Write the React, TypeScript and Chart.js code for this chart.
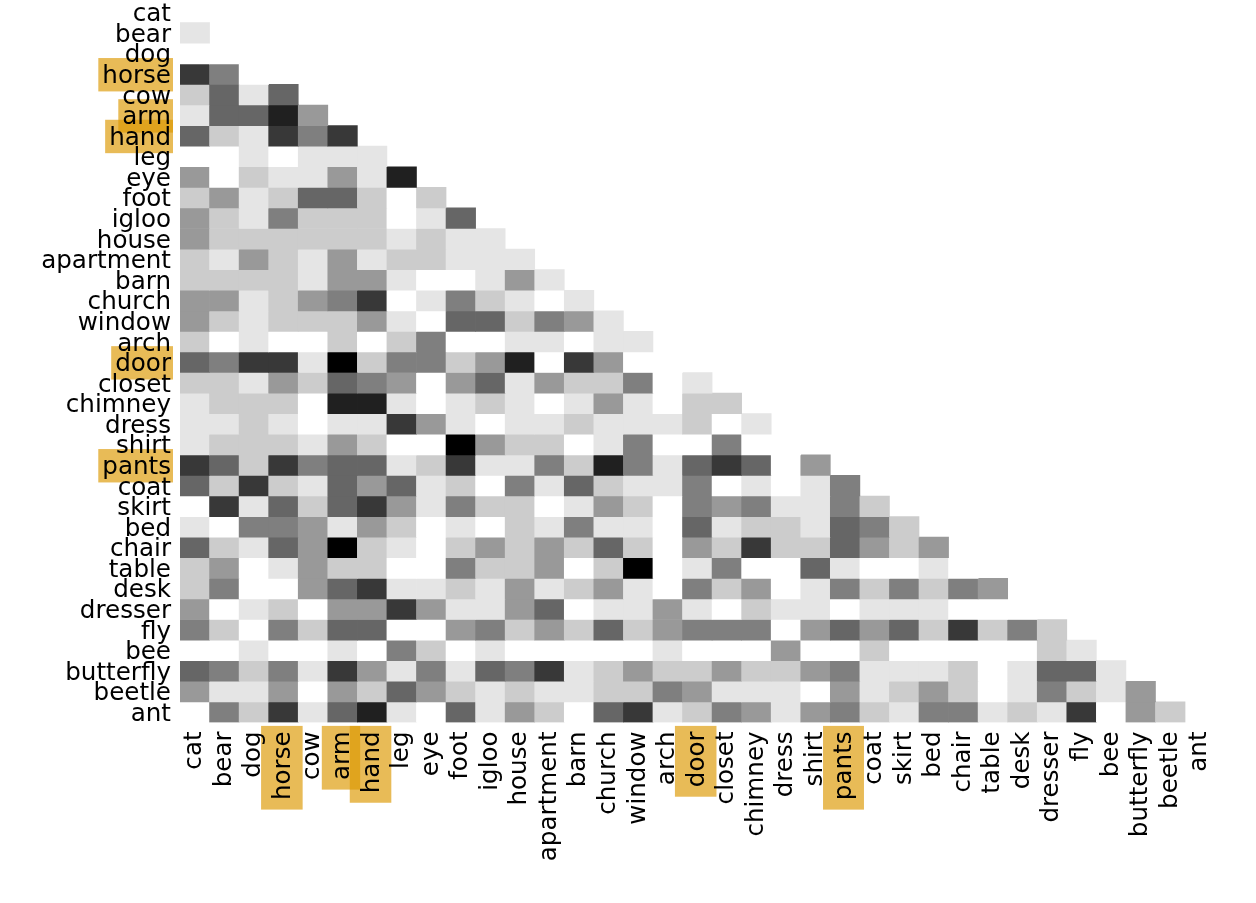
import React, { useEffect, useRef } from "react";
import { Chart, registerables } from "chart.js";

Chart.register(...registerables);

const categories = ["cat","bear","dog","horse","cow","arm","hand","leg","eye","foot","igloo","house","apartment","barn","church","window","arch","door","closet","chimney","dress","shirt","pants","coat","skirt","bed","chair","table","desk","dresser","fly","bee","butterfly","beetle","ant"];
const highlighted = ["horse","arm","hand","door","pants"];

// Grey shade per similarity level, lightest to darkest
const shades = ["#ffffff","#e5e5e5","#cccccc","#999999","#7f7f7f","#666666","#383838","#202020","#000000"];

// Lower triangle: one list per row, levels index into shades
const rowCat: number[] = [];
const rowBear = [1];
const rowDog = [0,0];
const rowHorse = [6,4,0];
const rowCow = [2,5,1,5];
const rowArm = [1,5,5,7,3];
const rowHand = [5,2,1,6,4,6];
const rowLeg = [0,0,1,0,1,1,1];
const rowEye = [3,0,2,1,1,3,1,7];
const rowFoot = [2,3,1,2,5,5,2,0,2];
const rowIgloo = [3,2,1,4,2,2,2,0,1,5];
const rowHouse = [3,2,2,2,2,2,2,1,2,1,1];
const rowApartment = [2,1,3,2,1,3,1,2,2,1,1,1];
const rowBarn = [2,2,2,2,1,3,3,1,0,0,1,3,1];
const rowChurch = [3,3,1,2,3,4,6,0,1,4,2,1,0,1];
const rowWindow = [3,2,1,2,2,2,3,1,0,5,5,2,4,3,1];
const rowArch = [2,0,1,0,0,2,0,2,4,0,0,1,1,0,1,1];
const rowDoor = [5,4,6,6,1,8,2,4,4,2,3,7,0,6,3,0,0];
const rowCloset = [2,2,1,3,2,5,4,3,0,3,5,1,3,2,2,4,0,1];
const rowChimney = [1,2,2,2,0,7,7,1,0,1,2,1,0,1,3,1,0,2,2];
const rowDress = [1,1,2,1,0,1,1,6,3,1,0,1,1,2,1,1,1,2,0,1];
const rowShirt = [1,2,2,2,1,3,2,0,0,8,3,2,2,0,1,4,0,0,4,0,0];
const rowPants = [6,5,2,6,4,5,5,1,2,6,1,1,4,2,7,4,1,5,6,5,0,3];
const rowCoat = [5,2,6,2,1,5,3,5,1,2,0,4,1,5,2,1,1,4,0,1,0,1,4];
const rowSkirt = [0,6,1,5,2,5,6,3,1,4,2,2,0,1,3,2,0,4,3,4,1,1,4,2];
const rowBed = [1,0,4,4,3,1,3,2,0,1,0,2,1,4,1,1,0,5,1,2,2,1,5,4,2];
const rowChair = [5,2,1,5,3,8,2,1,0,2,3,2,3,2,5,2,0,3,2,6,2,2,5,3,2,3];
const rowTable = [2,3,0,1,3,2,2,0,0,4,2,2,3,0,2,8,0,1,4,0,0,5,1,0,0,1,0];
const rowDesk = [2,4,0,0,3,5,6,1,1,2,1,3,1,2,3,1,0,4,2,3,0,1,4,2,4,2,4,3];
const rowDresser = [3,0,1,2,0,3,3,6,3,1,1,3,5,0,1,1,3,1,0,2,1,1,0,1,1,1,0,0,0];
const rowFly = [4,2,0,4,2,5,5,0,0,3,4,2,3,2,5,2,3,4,4,4,0,3,5,3,5,2,6,2,4,2];
const rowBee = [0,0,1,0,0,1,0,4,2,0,1,0,0,0,0,0,1,0,0,0,3,0,0,2,0,0,0,0,0,2,1];
const rowButterfly = [5,4,2,4,1,6,3,1,4,1,5,4,6,1,2,3,2,2,3,2,2,3,4,1,1,1,2,0,1,5,5,1];
const rowBeetle = [3,1,1,3,0,3,2,5,3,2,1,2,1,1,2,2,4,3,1,1,1,0,3,1,2,3,2,0,1,4,2,1,3];
const rowAnt = [0,4,2,6,1,5,7,1,0,5,1,3,2,0,5,6,1,2,4,3,1,3,4,2,1,4,4,1,2,1,6,0,3,2];

const rows = [rowCat,rowBear,rowDog,rowHorse,rowCow,rowArm,rowHand,rowLeg,rowEye,rowFoot,rowIgloo,rowHouse,rowApartment,rowBarn,rowChurch,rowWindow,rowArch,rowDoor,rowCloset,rowChimney,rowDress,rowShirt,rowPants,rowCoat,rowSkirt,rowBed,rowChair,rowTable,rowDesk,rowDresser,rowFly,rowBee,rowButterfly,rowBeetle,rowAnt];

const FONT_SIZE = 24.6;
const FONT = `${FONT_SIZE}px "DejaVu Sans"`;
const MARK = "rgba(220,152,0,0.66)";
// The y labels sit a little below the centre of their rows
const LABEL_SHIFT = 0.12;

const labelHighlights = {
  id: "labelHighlights",
  beforeDraw(chart: any) {
    const { ctx, chartArea, scales } = chart;
    ctx.save();
    ctx.font = FONT;
    ctx.fillStyle = MARK;
    for (const name of highlighted) {
      const i = categories.indexOf(name);
      const m = ctx.measureText(name);
      const w = m.width;
      const yc = scales.y.getPixelForValue(i);
      const right = chartArea.left - 7;
      const yw = w + 6;
      ctx.fillRect(right - yw, yc - 16.7 + 0.6, yw, 33.4);
      const xc = scales.x.getPixelForValue(i) - 1.6;
      const thickness = 29.4 + 0.64 * m.actualBoundingBoxAscent;
      ctx.fillRect(xc - thickness / 2, chartArea.bottom + 3.5, thickness, w + 15);
    }
    ctx.restore();
  },
};

export default function App() {
  const ref = useRef<HTMLCanvasElement>(null);
  useEffect(() => {
    const chart = new Chart(ref.current!, {
      type: "bar",
      data: {
        labels: categories,
        datasets: rows.map((row, r) => ({
          label: categories[r],
          data: row.map(() => [r - 0.5, r + 0.5]),
          backgroundColor: row.map((v) => shades[v]),
          borderWidth: 0,
          barPercentage: 1,
          categoryPercentage: 1,
          yAxisID: "y",
        })) as any,
      },
      plugins: [labelHighlights],
      options: {
        animation: false,
        responsive: false,
        grouped: false,
        layout: { padding: { top: 2.1, right: 1256 - 1214.6, left: 0, bottom: 0 } },
        plugins: { legend: { display: false }, tooltip: { enabled: false } },
        scales: {
          x: {
            type: "category",
            offset: true,
            grid: { display: false, drawTicks: false },
            border: { display: false },
            afterFit: (s: any) => {
              s.height = 903 - 722.4;
              s.paddingLeft = 0;
              s.paddingRight = 0;
            },
            ticks: {
              autoSkip: false,
              maxRotation: 90,
              minRotation: 90,
              padding: 9,
              color: "#000",
              font: { family: "DejaVu Sans", size: FONT_SIZE },
            },
          },
          y: {
            type: "linear",
            display: false,
            reverse: true,
            min: -0.5,
            max: 34.5,
          },
          yLabels: {
            type: "linear",
            position: "left",
            reverse: true,
            min: -0.5 - LABEL_SHIFT,
            max: 34.5 - LABEL_SHIFT,
            grid: { display: false, drawTicks: false },
            border: { display: false },
            afterBuildTicks: (s: any) => {
              s.ticks = categories.map((_, i) => ({ value: i }));
            },
            afterFit: (s: any) => {
              s.width = 180;
              s.paddingTop = 0;
              s.paddingBottom = 0;
            },
            ticks: {
              autoSkip: false,
              padding: 9,
              color: "#000",
              font: { family: "DejaVu Sans", size: FONT_SIZE },
              callback: (v: any) => categories[v],
            },
          },
        },
      } as any,
    });
    return () => chart.destroy();
  }, []);
  return (
    <canvas
      ref={ref}
      width={1256}
      height={903}
      style={{ position: "absolute", left: 0, top: 0, display: "block", width: 1256, height: 903 }}
    />
  );
}
